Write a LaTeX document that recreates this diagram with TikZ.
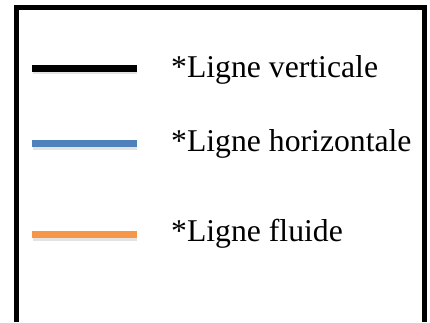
\documentclass[tikz,border=0pt]{standalone}
\usepackage{fontspec}
\setmainfont{Liberation Serif}
\usetikzlibrary{positioning,calc}
\definecolor{legblue}{RGB}{79,129,189}
\definecolor{legorange}{RGB}{247,150,70}
\tikzset{
  frm/.style={black, line width=5pt},
  legline/.style={line width=7pt},
  shd/.style={gray, line width=6pt, opacity=0.22},
  legtxt/.style={anchor=base west, inner sep=0pt, font=\fontsize{31.7}{36}\selectfont},
}
\begin{document}
\begin{tikzpicture}[x=1pt, y=1pt]
    \useasboundingbox (0,0) rectangle (430,322);
    \draw[frm] (16.5,0) |- (424,314.5) -- (424,0);
    \coordinate (V1) at (32,254); \coordinate (V2) at (137,254);
    \coordinate (H1) at (32,178.5); \coordinate (H2) at (137,178.5);
    \coordinate (F1) at (32,87.5); \coordinate (F2) at (137,87.5);
    \draw[shd] ($(V1)+(1,-3)$) -- ($(V2)+(0,-3)$);
    \draw[shd] ($(H1)+(1,-3)$) -- ($(H2)+(0,-3)$);
    \draw[shd] ($(F1)+(1,-3)$) -- ($(F2)+(0,-3)$);
    \draw[legline, black] (V1) -- (V2);
    \draw[legline, legblue] (H1) -- (H2);
    \draw[legline, legorange] (F1) -- (F2);
    \node[legtxt] (vtxt) at (171,244.7) {*Ligne verticale};
    \node[legtxt] (htxt) at (171,170.5) {*Ligne horizontale};
    \node[legtxt] (ftxt) at (171,80.5) {*Ligne fluide};
  \end{tikzpicture}
\end{document}
